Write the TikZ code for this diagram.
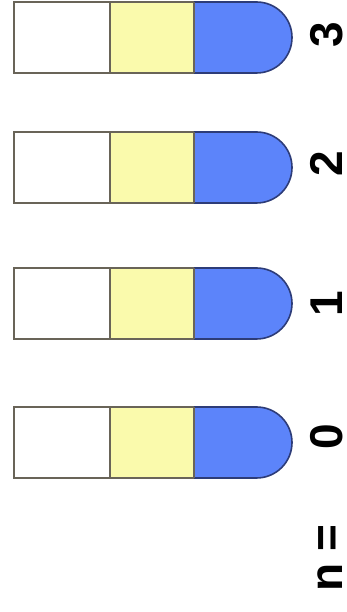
\documentclass[tikz,border=0pt]{standalone}
\usepackage{fontspec}
\setmainfont{Liberation Sans}
\definecolor{tubeyellow}{RGB}{250,250,172}
\definecolor{tubeblue}{RGB}{92,132,250}
\definecolor{boxline}{RGB}{105,100,88}
\definecolor{capline}{RGB}{45,60,120}
\begin{document}
\begin{tikzpicture}[x=1pt,y=1pt,
  boxedge/.style={draw=boxline, line width=1.6pt},
  capedge/.style={draw=capline, line width=1.6pt},
  lbl/.style={font=\bfseries\fontsize{46}{46}\selectfont, rotate=90, anchor=base, inner sep=0pt}]
\useasboundingbox (0,0) rectangle (346,612);
\foreach \s in {539,409,273,134}{
  \begin{scope}[yshift=\s pt]
    \fill[white] (14,0) rectangle (110,71);
    \fill[tubeyellow] (110,0) rectangle (194,71);
    \fill[tubeblue] (194,0) -- (256.5,0) arc[start angle=-90,end angle=90,radius=35.5] -- (194,71) -- cycle;
    \draw[capedge] (194,0) -- (256.5,0) arc[start angle=-90,end angle=90,radius=35.5] -- (194,71);
    \draw[boxedge] (194,71) -- (14,71) -- (14,0) -- (194,0);
    \draw[boxedge] (110,0) -- (110,71);
    \draw[boxedge] (194,0) -- (194,71);
  \end{scope}
}
\node[lbl] (l3) at (342.5,577) {3};
\node[lbl] (l2) at (342.5,448) {2};
\node[lbl] (l1) at (342.5,308) {1};
\node[lbl] (l0) at (342.5,175) {0};
\node[lbl] (ln) at (342.5,54) {n =};
\end{tikzpicture}
\end{document}
